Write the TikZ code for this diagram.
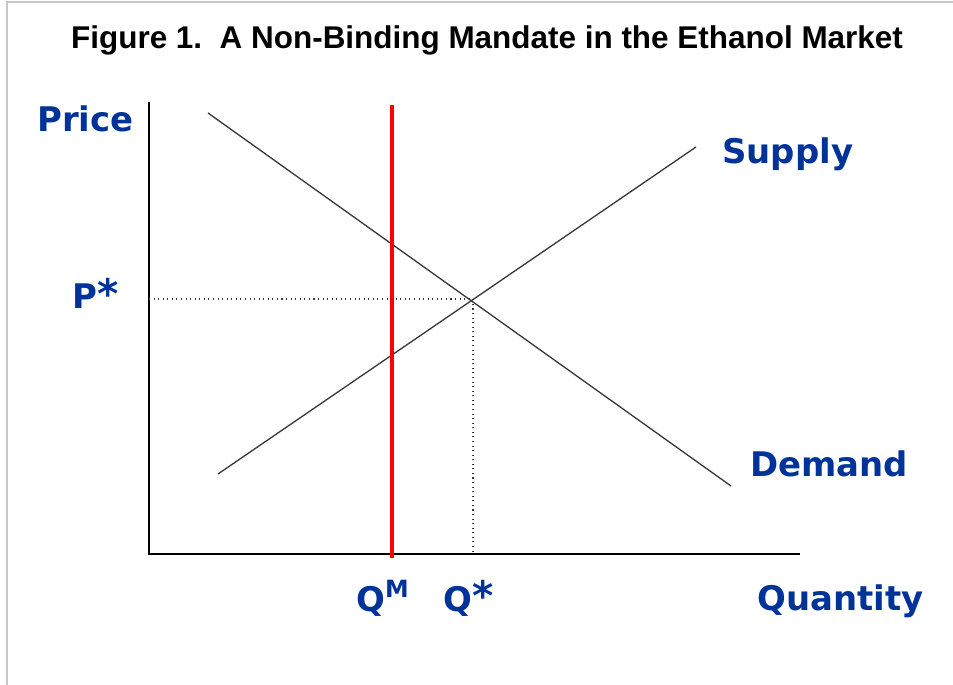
\documentclass[tikz,border=0pt]{standalone}
\usepackage{fontspec}
\setmainfont{Liberation Sans}
\newfontfamily\labelfont{DejaVu Sans}
\usetikzlibrary{positioning,calc}
\definecolor{labelBlue}{HTML}{003399}
\definecolor{curveGray}{HTML}{383838}
\definecolor{frameGray}{HTML}{C8C8C8}
\definecolor{mandateRed}{HTML}{FF0000}
\newcommand{\eqstar}{\raisebox{0.05ex}{\scalebox{1.2}{*}}}
\tikzset{
  heading/.style={anchor=base, inner sep=0pt, font=\bfseries\fontsize{17.9}{21}\selectfont},
  axislabel/.style={anchor=base west, inner sep=0pt, text=labelBlue,
                    font=\labelfont\bfseries\fontsize{19.3}{23}\selectfont},
  axis/.style={line width=1.1pt, draw=black},
  curve/.style={line width=0.75pt, draw=curveGray},
  guide/.style={line width=0.6pt, draw=curveGray, dotted},
  mandate/.style={line width=2pt, draw=mandateRed}
}

\begin{document}
\begin{tikzpicture}[x=0.02cm, y=-0.02cm]
\useasboundingbox (0,0) rectangle (953,685);
\draw[frameGray, line width=0.8pt] (7,685) -- (7,2) -- (953,2);

\node[heading] (title) at (487,49) {Figure 1.\ \ A Non-Binding Mandate in the Ethanol Market};

% axes
\coordinate (origin) at (149,554);
\coordinate (ytop) at (149,102);
\coordinate (xend) at (800,554);
\draw[axis] (ytop) -- (origin) -- (xend);

% curves
\coordinate (d1) at (208,113);
\coordinate (d2) at (731,486);
\coordinate (s1) at (218,474);
\coordinate (s2) at (696,147);
\draw[curve] (d1) -- (d2);
\draw[curve] (s1) -- (s2);

% equilibrium
\coordinate (eq) at (473,299);
\coordinate (peq) at (origin |- eq);
\coordinate (qeq) at (eq |- origin);
\draw[guide] (peq) -- (eq) -- (qeq);

% mandate
\coordinate (mtop) at (392,105);
\coordinate (mbot) at (392,558);
\draw[mandate] (mtop) -- (mbot);

\node[axislabel] (price) at (37,132) {Price};
\node[axislabel] (pstar) at (72,309) {P\eqstar};
\node[axislabel] (supply) at (722,164) {Supply};
\node[axislabel] (demand) at (750,477) {Demand};
\node[axislabel] (qm) at (356,611) {Q\textsuperscript{M}};
\node[axislabel] (qstar) at (443,611) {Q\eqstar};
\node[axislabel] (quantity) at (757,610) {Quantity};
\end{tikzpicture}
\end{document}
